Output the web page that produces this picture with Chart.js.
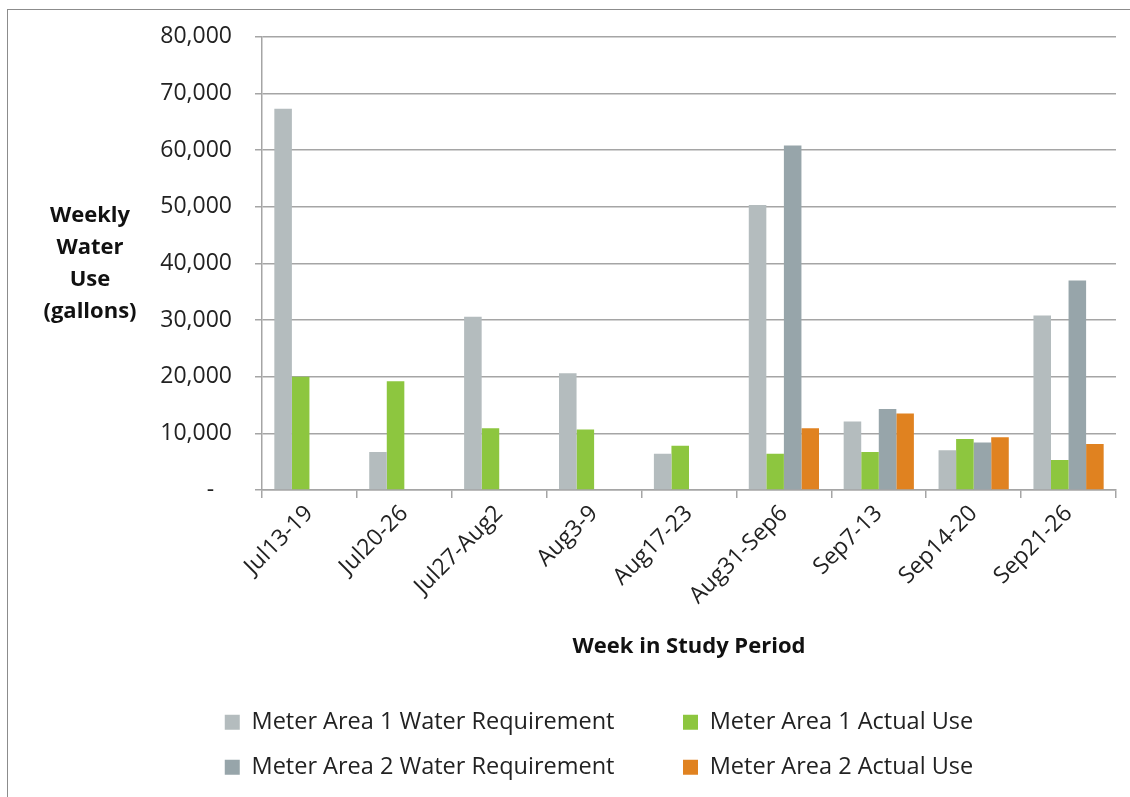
<!DOCTYPE html>
<html>
<head>
<meta charset="utf-8">
<script src="https://cdn.jsdelivr.net/npm/chart.js@4.4.1/dist/chart.umd.min.js"></script>
<style>
  html, body { margin: 0; padding: 0; background: #fff; }
  #wrap { position: relative; width: 1130px; height: 797px; }
  #frame { position: absolute; left: 7px; top: 9px; width: 1140px; height: 800px; border: 1px solid #8c8c8c; box-sizing: border-box; }
  canvas { position: absolute; left: 0; top: 0; }
</style>
</head>
<body>
<div id="wrap">
  <div id="frame"></div>
  <canvas id="waterChart" width="1130" height="797"></canvas>
</div>
<script>
const weeks = ["Jul13-19", "Jul20-26", "Jul27-Aug2", "Aug3-9", "Aug17-23", "Aug31-Sep6", "Sep7-13", "Sep14-20", "Sep21-26"];

// gallons per week
const area1Requirement = [67300, 6700, 30600, 20600, 6400, 50300, 12100, 7000, 30800];
const area1Actual = [20000, 19200, 10900, 10700, 7800, 6400, 6700, 9000, 5300];
const area2Requirement = [null, null, null, null, null, 60800, 14300, 8400, 37000];
const area2Actual = [null, null, null, null, null, 10900, 13500, 9300, 8100];

const seriesNames = ["Meter Area 1 Water Requirement", "Meter Area 1 Actual Use", "Meter Area 2 Water Requirement", "Meter Area 2 Actual Use"];
const seriesColors = ["#b4bcbe", "#8dc63f", "#97a5aa", "#e08220"];

const yTitleLines = ["Weekly", "Water", "Use", "(gallons)"];
const xTitle = "Week in Study Period";

const FONT = "'Open Sans', Lato, sans-serif";

// y axis title is horizontal and stacked, so draw it by hand
const yTitlePlugin = {
    id: "yTitle",
    afterDraw(chart) {
        const ctx = chart.ctx;
        const area = chart.chartArea;
        const midY = (area.top + area.bottom) / 2;
        ctx.save();
        ctx.font = "bold 22px " + FONT;
        ctx.fillStyle = "#111";
        ctx.textAlign = "center";
        ctx.textBaseline = "middle";
        yTitleLines.forEach((line, i) => {
            ctx.fillText(line, area.left - 172, midY - 48 + i * 32);
        });
        ctx.restore();
    }
};

const datasets = [area1Requirement, area1Actual, area2Requirement, area2Actual].map((values, i) => ({
    label: seriesNames[i],
    data: values,
    backgroundColor: seriesColors[i],
    borderWidth: 0,
    categoryPercentage: 0.74,
    barPercentage: 1.0
}));

const ctx = document.getElementById("waterChart").getContext("2d");
new Chart(ctx, {
    type: "bar",
    data: { labels: weeks, datasets: datasets },
    options: {
        responsive: false,
        animation: false,
        layout: { padding: { left: 129, right: 14, top: 30, bottom: 8 } },
        plugins: {
            tooltip: { enabled: false },
            legend: {
                position: "bottom",
                labels: {
                    boxWidth: 15,
                    boxHeight: 15,
                    padding: 21.5,
                    color: "#222",
                    font: { family: FONT, size: 23.5, lineHeight: 1.2 },
                    generateLabels(chart) {
                        // trailing spaces widen the gap between the two legend columns
                        return Chart.defaults.plugins.legend.labels.generateLabels(chart).map(item => {
                            item.text = item.text + "\u2003\u2003";
                            item.lineWidth = 0;
                            return item;
                        });
                    }
                }
            }
        },
        scales: {
            x: {
                offset: true,
                grid: { display: true, drawOnChartArea: false, drawTicks: true, tickLength: 8, color: "#a5a5a5", lineWidth: 1.5, offset: true },
                border: { display: true, color: "#a5a5a5", width: 1.5 },
                ticks: {
                    color: "#222",
                    font: { family: FONT, size: 23 },
                    minRotation: 45,
                    maxRotation: 45,
                    padding: 2
                },
                title: {
                    display: true,
                    text: xTitle,
                    color: "#111",
                    font: { family: FONT, size: 22, weight: "bold" },
                    padding: { top: 4, bottom: 29 }
                },
                afterFit(scale) { scale.height = 199; }
            },
            y: {
                min: 0,
                max: 80000,
                grid: { color: "#a5a5a5", lineWidth: 1.5, tickLength: 7 },
                border: { display: true, color: "#a5a5a5", width: 1.5 },
                ticks: {
                    stepSize: 10000,
                    color: "#222",
                    padding: 23,
                    font: { family: FONT, size: 23 },
                    callback: (v) => v === 0 ? "-   " : v.toLocaleString("en-US")
                },
                afterFit(scale) { scale.width = 133; }
            }
        }
    },
    plugins: [yTitlePlugin]
});
</script>
</body>
</html>
